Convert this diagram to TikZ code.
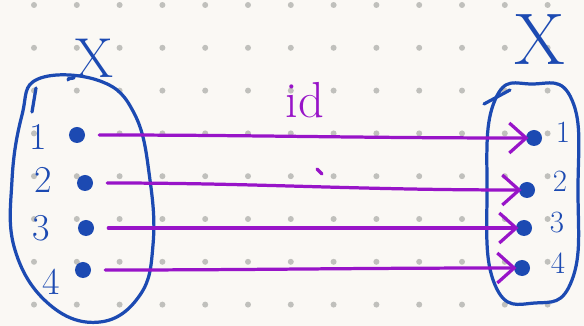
\documentclass[tikz,border=0pt]{standalone}
\usepackage{tikz}
\usetikzlibrary{arrows.meta}
\definecolor{inkblue}{RGB}{28,74,178}
\definecolor{inkpurple}{RGB}{152,20,200}
\definecolor{paper}{RGB}{250,248,244}
\definecolor{griddot}{RGB}{192,192,188}

\begin{document}
\begin{tikzpicture}[x=0.025cm,y=-0.025cm,line cap=round,
  elem/.style={circle,fill=inkblue,inner sep=0pt,minimum size=0.4cm},
  num/.style={text=inkblue,inner sep=0pt,font=\fontsize{27}{28}\selectfont},
  rnum/.style={num,font=\fontsize{22}{24}\selectfont},
  setname/.style={text=inkblue,inner sep=0pt},
  mapsto/.style={inkpurple,line width=2.3pt,shorten <=0.35cm,shorten >=-2pt,
    -{Straight Barb[length=0.42cm,width=0.75cm]}}]
% paper and dot grid
\useasboundingbox (0,0) rectangle (584,326);
\fill[paper] (0,0) rectangle (584,326);
\foreach \i in {0,...,12}
  \foreach \j in {0,...,7}
    \fill[griddot] ({34+42.8*\i},{5+42.8*\j}) circle (0.075cm);
% domain X
\draw[inkblue,line width=2.3pt] plot[smooth cycle,tension=0.7] coordinates
  {(38,79) (100,81) (135,115) (150,180) (153,245) (140,295) (100,322)
   (50,305) (15,250) (12,180) (22,115)};
\draw[inkblue,line width=2.3pt] (32,112) -- (36,88);
\node[setname,font=\fontsize{40}{42}\selectfont] (xl) at (94,58) {X};
\draw[inkblue,line width=2.3pt] (68,80) to[out=90,in=225] (xl.south west);
% codomain X
\draw[inkblue,line width=2.3pt] plot[smooth cycle,tension=0.8] coordinates
  {(532,84) (572,100) (578,190) (572,280) (535,303) (495,285) (487,190) (495,100)};
\draw[inkblue,line width=2.3pt] (484,104) -- (510,90);
\node[setname,font=\fontsize{52}{54}\selectfont] (xr) at (540,40) {X};
% elements
\node[elem] (a1) at (77,135) {};
\node[elem] (a2) at (85,183) {};
\node[elem] (a3) at (86,228) {};
\node[elem] (a4) at (83,270) {};
\node[num] (na1) at (38,137) {1};
\node[num] (na2) at (43,180) {2};
\node[num] (na3) at (41,228) {3};
\node[num] (na4) at (51,282) {4};
\node[elem] (b1) at (534,138) {};
\node[elem] (b2) at (527,190) {};
\node[elem] (b3) at (524,228) {};
\node[elem] (b4) at (522,268) {};
\node[rnum] (nb1) at (563,132) {1};
\node[rnum] (nb2) at (560,181) {2};
\node[rnum] (nb3) at (557,223) {3};
\node[rnum] (nb4) at (558,263) {4};
% identity map
\foreach \k in {1,...,4}
  \draw[mapsto] (a\k) to[out=0,in=180] (b\k);
\node[text=inkpurple,font=\fontsize{36}{38}\selectfont] (idl) at (305,100) {id};
\draw[inkpurple,line width=2.3pt] (317,169) -- (322,174);
\end{tikzpicture}
\end{document}
